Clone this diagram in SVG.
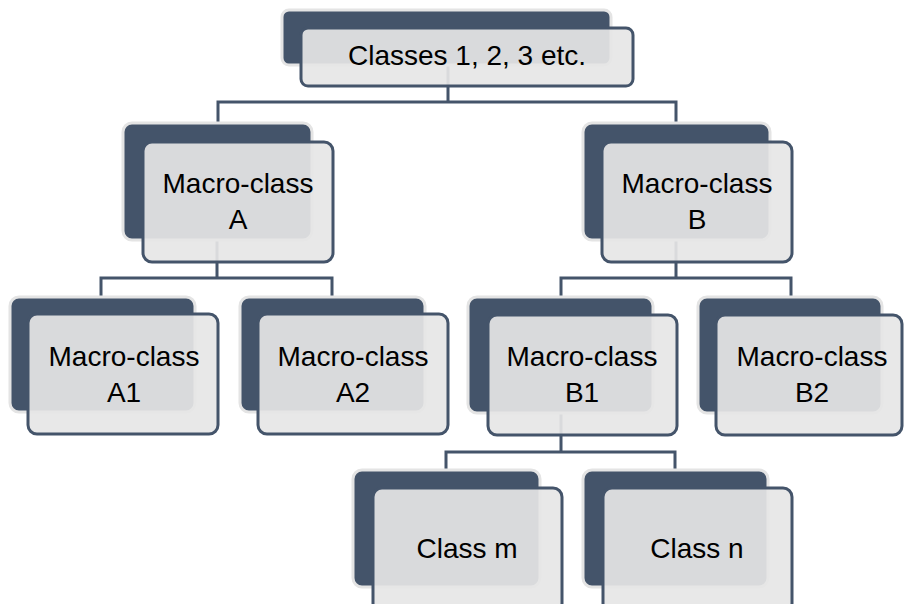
<svg xmlns="http://www.w3.org/2000/svg" width="904" height="604" viewBox="0 0 904 604">
<style>
.back{fill:#44546a;stroke:#e4e4e4;stroke-width:3}
.front{fill:#e6e6e6;fill-opacity:0.92;stroke:#44546a;stroke-width:3}
.lbl{font-family:"Liberation Sans",Arial,sans-serif;font-size:28px;fill:#000;text-anchor:middle}
.conn{fill:none;stroke:#44546a;stroke-width:3}
</style>
<rect width="904" height="604" fill="#fff"/>
<g id="connectors">
<path class="conn" d="M448,65 V102 M218,122 V102 H676 V122"/>
<path class="conn" d="M217,240 V278 M101,296 V278 H332 V296"/>
<path class="conn" d="M676,240 V278 M561,296 V278 H791 V296"/>
<path class="conn" d="M561,413 V452 M446,469 V452 H675 V469"/>
</g>
<g id="root">
<rect class="back" x="282" y="10" width="329" height="55" rx="7"/>
<rect class="front" x="301" y="28" width="332" height="58" rx="7"/>
<text class="lbl" x="467" y="65">Classes 1, 2, 3 etc.</text>
</g>
<g id="macroA">
<rect class="back" x="123" y="123" width="189" height="117" rx="9"/>
<rect class="front" x="143" y="142" width="190" height="120" rx="9"/>
<text class="lbl" x="238" y="193">Macro-class</text>
<text class="lbl" x="238" y="229">A</text>
</g>
<g id="macroB">
<rect class="back" x="583" y="123" width="187" height="117" rx="9"/>
<rect class="front" x="602" y="142" width="190" height="120" rx="9"/>
<text class="lbl" x="697" y="193">Macro-class</text>
<text class="lbl" x="697" y="229">B</text>
</g>
<g id="macroA1">
<rect class="back" x="10" y="297" width="185" height="115" rx="9"/>
<rect class="front" x="28" y="314" width="190" height="120" rx="9"/>
<text class="lbl" x="124" y="366">Macro-class</text>
<text class="lbl" x="124" y="402">A1</text>
</g>
<g id="macroA2">
<rect class="back" x="240" y="297" width="185" height="115" rx="9"/>
<rect class="front" x="258" y="314" width="190" height="120" rx="9"/>
<text class="lbl" x="353" y="366">Macro-class</text>
<text class="lbl" x="353" y="402">A2</text>
</g>
<g id="macroB1">
<rect class="back" x="468" y="297" width="185" height="116" rx="9"/>
<rect class="front" x="488" y="315" width="189" height="120" rx="9"/>
<text class="lbl" x="582" y="366">Macro-class</text>
<text class="lbl" x="582" y="402">B1</text>
</g>
<g id="macroB2">
<rect class="back" x="698" y="297" width="184" height="116" rx="9"/>
<rect class="front" x="716" y="315" width="186" height="120" rx="9"/>
<text class="lbl" x="812" y="366">Macro-class</text>
<text class="lbl" x="812" y="402">B2</text>
</g>
<g id="classM">
<rect class="back" x="353" y="470" width="187" height="117" rx="9"/>
<rect class="front" x="373" y="488" width="189" height="124" rx="9"/>
<text class="lbl" x="467" y="558">Class m</text>
</g>
<g id="classN">
<rect class="back" x="583" y="470" width="185" height="117" rx="9"/>
<rect class="front" x="603" y="488" width="189" height="124" rx="9"/>
<text class="lbl" x="697" y="558">Class n</text>
</g>
</svg>
